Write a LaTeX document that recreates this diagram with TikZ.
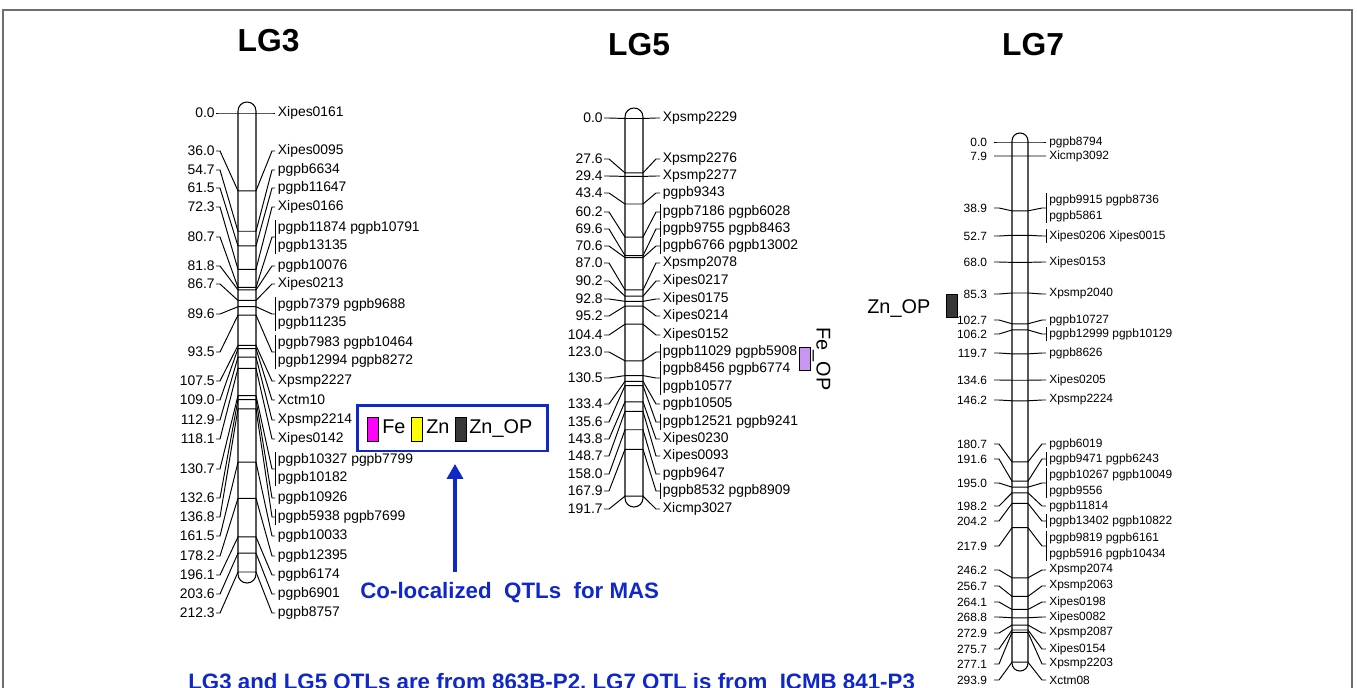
\documentclass[tikz,border=0pt]{standalone}
\usepackage{fontspec}
\setmainfont{Liberation Sans}
\usetikzlibrary{arrows.meta,positioning}
\definecolor{qtlblue}{RGB}{16,40,200}
\definecolor{fecol}{RGB}{255,0,255}
\definecolor{zncol}{RGB}{255,255,0}
\definecolor{znopcol}{RGB}{55,55,55}
\definecolor{feopcol}{RGB}{200,150,240}
\definecolor{framegray}{RGB}{110,110,110}

\begin{document}
\begin{tikzpicture}[
    x=0.02cm, y=-0.02cm,
    title/.style={font=\fontsize{18.1}{20}\selectfont\bfseries, inner sep=0pt},
    num/.style={font=\fontsize{7.9}{10.2}\selectfont, inner xsep=0.6pt, inner ysep=0.5pt, anchor=east},
    mk/.style={font=\fontsize{7.9}{10.2}\selectfont, inner xsep=1.5pt, inner ysep=0.5pt, anchor=west, align=left},
    numsm/.style={num, font=\fontsize{6.8}{9}\selectfont, inner xsep=3.8pt},
    mksm/.style={mk, font=\fontsize{6.8}{9}\selectfont, inner xsep=1.7pt},
    link/.style={line width=0.55pt},
    chrom/.style={draw, line width=0.6pt, fill=white},
    swatch/.style={draw, line width=0.5pt, inner sep=0pt, minimum width=0.22cm, minimum height=0.47cm},
    legtxt/.style={font=\fontsize{11.3}{13}\selectfont, inner sep=0pt, anchor=base west},
    note/.style={font=\fontsize{12.7}{15}\selectfont\bfseries, text=qtlblue, inner sep=0pt, anchor=base west},
    qtlarrow/.style={-{Triangle[length=8.5pt,width=9pt]}, line width=2.6pt, qtlblue}
]
    \useasboundingbox (0,0) rectangle (1357,687);
    \clip (0,0) rectangle (1357,687);
    \draw[framegray, line width=1.1pt] (3,10) rectangle (1352,730);

    \node[title] (lg3title) at (268.5,41) {LG3};
    \node[title] (lg5title) at (639,45) {LG5};
    \node[title] (lg7title) at (1033,45) {LG7};

    % LG3
    \draw[chrom, rounded corners=5.1pt] (238,102) rectangle (256,583);
    \foreach \cmv/\ly/\txt/\br [count=\i] in {
        0.0/113/Xipes0161/0, 36.0/151/Xipes0095/0, 54.7/170/pgpb6634/0,
        61.5/188/pgpb11647/0, 72.3/207/Xipes0166/0,
        80.7/237/{pgpb11874 pgpb10791\\pgpb13135}/1,
        81.8/266/pgpb10076/0, 86.7/284/Xipes0213/0,
        89.6/314/{pgpb7379 pgpb9688\\pgpb11235}/1,
        93.5/352/{pgpb7983 pgpb10464\\pgpb12994 pgpb8272}/1,
        107.5/381/Xpsmp2227/0, 109.0/400/Xctm10/0, 112.9/420/Xpsmp2214/0,
        118.1/439/Xipes0142/0,
        130.7/469/{pgpb10327 pgpb7799\\pgpb10182}/1,
        132.6/498/pgpb10926/0, 136.8/517/pgpb5938 pgpb7699/1,
        161.5/536/pgpb10033/0, 178.2/556/pgpb12395/0, 196.1/575/pgpb6174/0,
        203.6/594/pgpb6901/0, 212.3/613/pgpb8757/0}{
        \pgfmathsetmacro\tky{113+2.162*\cmv}
        \node[num] (g3num\i) at (216,\ly) {\cmv};
        \node[mk] (g3mark\i) at (275,\ly) {\txt};
        \coordinate (g3kl\i) at (220,\ly);
        \coordinate (g3tl\i) at (238,\tky);
        \coordinate (g3tr\i) at (256,\tky);
        \coordinate (g3kr\i) at (272,\ly);
        \draw[link] (g3num\i.east) -- (g3kl\i) -- (g3tl\i) -- (g3tr\i) -- (g3kr\i) -- (g3mark\i.west);
        \ifnum\br=1 \draw[link] (g3mark\i.north west) -- (g3mark\i.south west);\fi
    }

    % LG5
    \draw[chrom, rounded corners=5.1pt] (625,108) rectangle (643,507);
    \foreach \cmv/\ly/\txt/\br [count=\i] in {
        0.0/118/Xpsmp2229/0, 27.6/159/Xpsmp2276/0, 29.4/176/Xpsmp2277/0,
        43.4/193/pgpb9343/0, 60.2/212/pgpb7186 pgpb6028/1,
        69.6/229/pgpb9755 pgpb8463/1, 70.6/246/pgpb6766 pgpb13002/1,
        87.0/263/Xpsmp2078/0, 90.2/281/Xipes0217/0, 92.8/299/Xipes0175/0,
        95.2/316/Xipes0214/0, 104.4/335/Xipes0152/0,
        123.0/352/pgpb11029 pgpb5908/1,
        130.5/378/{pgpb8456 pgpb6774\\pgpb10577}/1,
        133.4/404/pgpb10505/0, 135.6/422/pgpb12521 pgpb9241/1,
        143.8/439/Xipes0230/0, 148.7/456/Xipes0093/0, 158.0/474/pgpb9647/0,
        167.9/491/pgpb8532 pgpb8909/1, 191.7/509/Xicmp3027/0}{
        \pgfmathsetmacro\tky{118.5+1.97*\cmv}
        \node[num] (g5num\i) at (604,\ly) {\cmv};
        \node[mk] (g5mark\i) at (660,\ly) {\txt};
        \coordinate (g5kl\i) at (609,\ly);
        \coordinate (g5tl\i) at (625,\tky);
        \coordinate (g5tr\i) at (643,\tky);
        \coordinate (g5kr\i) at (656,\ly);
        \draw[link] (g5num\i.east) -- (g5kl\i) -- (g5tl\i) -- (g5tr\i) -- (g5kr\i) -- (g5mark\i.west);
        \ifnum\br=1 \draw[link] (g5mark\i.north west) -- (g5mark\i.south west);\fi
    }

    % LG7
    \draw[chrom, rounded corners=4.5pt] (1012,133) rectangle (1028,671);
    \foreach \cmv/\ly/\txt/\br [count=\i] in {
        0.0/142/pgpb8794/0, 7.9/156/Xicmp3092/0,
        38.9/208/{pgpb9915 pgpb8736\\pgpb5861}/1,
        52.7/236/Xipes0206 Xipes0015/1, 68.0/262/Xipes0153/0,
        85.3/294/Xpsmp2040/0, 102.7/320/pgpb10727/0,
        106.2/334/pgpb12999 pgpb10129/1, 119.7/353/pgpb8626/0,
        134.6/380/Xipes0205/0, 146.2/400/Xpsmp2224/0, 180.7/444/pgpb6019/0,
        191.6/459/pgpb9471 pgpb6243/1,
        195.0/483/{pgpb10267 pgpb10049\\pgpb9556}/1,
        198.2/506/pgpb11814/0, 204.2/521/pgpb13402 pgpb10822/1,
        217.9/546/{pgpb9819 pgpb6161\\pgpb5916 pgpb10434}/1,
        246.2/570/Xpsmp2074/0, 256.7/586/Xpsmp2063/0, 264.1/602/Xipes0198/0,
        268.8/617/Xipes0082/0, 272.9/633/Xpsmp2087/0, 275.7/649/Xipes0154/0,
        277.1/664/Xpsmp2203/0, 293.9/680/Xctm08/0}{
        \pgfmathsetmacro\tky{142+1.77*\cmv}
        \node[numsm] (g7num\i) at (994,\ly) {\cmv};
        \node[mksm] (g7mark\i) at (1046,\ly) {\txt};
        \coordinate (g7kl\i) at (999,\ly);
        \coordinate (g7tl\i) at (1012,\tky);
        \coordinate (g7tr\i) at (1028,\tky);
        \coordinate (g7kr\i) at (1042,\ly);
        \draw[link] (g7num\i.east) -- (g7kl\i) -- (g7tl\i) -- (g7tr\i) -- (g7kr\i) -- (g7mark\i.west);
        \ifnum\br=1 \draw[link] (g7mark\i.north west) -- (g7mark\i.south west);\fi
    }

    % QTL marks
    \node[swatch, fill=feopcol, minimum height=0.46cm] (feopswatch) at (804.5,358.5) {};
    \node[legtxt, rotate=-90] (feoptext) at (816.5,327) {Fe\_OP};
    \node[legtxt] (znoptext7) at (867,313) {Zn\_OP};
    \node[swatch, fill=znopcol, minimum height=0.46cm] (znopswatch7) at (951.5,305.5) {};

    % legend
    \node[draw=qtlblue, line width=1.7pt, minimum width=3.82cm, minimum height=0.92cm, inner sep=0pt] (legend) at (452.5,428) {};
    \node[swatch, fill=fecol] (feswatch) at (372.5,429.5) {};
    \node[legtxt] (fetext) at (382,433) {Fe};
    \node[swatch, fill=zncol] (znswatch) at (417,429.5) {};
    \node[legtxt] (zntext) at (426,433) {Zn};
    \node[swatch, fill=znopcol] (znopswatch) at (460.5,429.5) {};
    \node[legtxt] (znoptext) at (469,433) {Zn\_OP};

    \coordinate (arrowfoot) at (455,572);
    \draw[qtlarrow, shorten >=6.5pt] (arrowfoot) -- (arrowfoot |- legend.south);
    \node[note] (coloc) at (360,598) {Co-localized\ \ QTLs\ \ for MAS};
    \node[note] (source) at (188,689) {LG3 and LG5 QTLs are from 863B-P2, LG7 QTL is from\ \ ICMB 841-P3};
\end{tikzpicture}
\end{document}
